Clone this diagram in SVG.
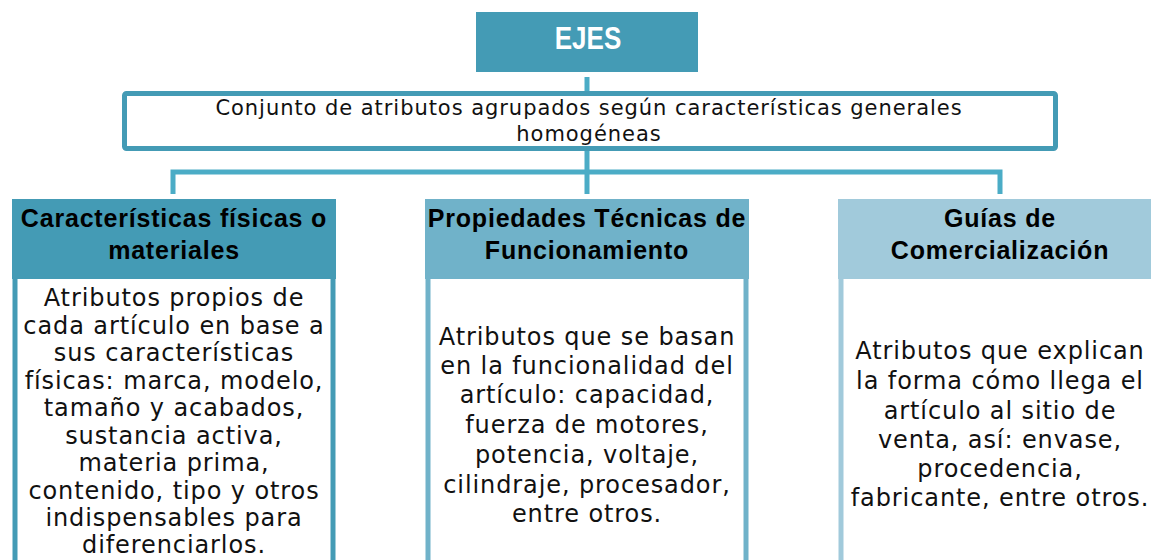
<svg xmlns="http://www.w3.org/2000/svg" width="1151" height="560" viewBox="0 0 1151 560">
<style>
.hdr{font-family:"Liberation Sans",Arial,sans-serif;font-weight:bold;font-size:25px;letter-spacing:0.8px;fill:#000;text-anchor:middle}
.body{font-family:"DejaVu Sans","Liberation Sans",sans-serif;font-size:24px;letter-spacing:0.9px;fill:#111;text-anchor:middle}
.desc{font-family:"DejaVu Sans","Liberation Sans",sans-serif;font-size:21px;letter-spacing:0.95px;fill:#111;text-anchor:middle}
.conn{fill:none;stroke:#4bacc6;stroke-width:5}
</style>
<rect width="1151" height="560" fill="#fff"/>
<g id="connectors">
<path class="conn" d="M587,77 V93"/>
<path class="conn" d="M587,148 V194 M173,194 V172 H1000 V194"/>
</g>
<g id="ejes">
<rect x="476" y="12" width="222" height="60" fill="#449bb5"/>
<text transform="translate(588,49) scale(0.84,1)" x="0" y="0" font-family="Liberation Sans,Arial,sans-serif" font-weight="bold" font-size="31" fill="#fff" text-anchor="middle">EJES</text>
</g>
<g id="definicion">
<rect x="124.5" y="93.5" width="931" height="55" rx="2" fill="#fff" stroke="#449bb5" stroke-width="5"/>
<text class="desc" x="589" y="115">Conjunto de atributos agrupados según características generales</text>
<text class="desc" x="589" y="141">homogéneas</text>
</g>
<g id="fisicas">
<rect x="15" y="270" width="318" height="310" fill="#fff" stroke="#449bb5" stroke-width="5"/>
<rect x="12" y="199" width="324" height="80" fill="#449bb5"/>
<text class="hdr" x="174" y="227">Características físicas o</text>
<text class="hdr" x="174" y="259">materiales</text>
<text class="body" x="174" y="306">Atributos propios de</text>
<text class="body" x="174" y="333.5">cada artículo en base a</text>
<text class="body" x="174" y="361">sus características</text>
<text class="body" x="174" y="388.5">físicas: marca, modelo,</text>
<text class="body" x="174" y="416">tamaño y acabados,</text>
<text class="body" x="174" y="443.5">sustancia activa,</text>
<text class="body" x="174" y="471">materia prima,</text>
<text class="body" x="174" y="498.5">contenido, tipo y otros</text>
<text class="body" x="174" y="526">indispensables para</text>
<text class="body" x="174" y="553">diferenciarlos.</text>
</g>
<g id="tecnicas">
<rect x="428" y="270" width="318" height="310" fill="#fff" stroke="#70b2c9" stroke-width="5"/>
<rect x="425" y="199" width="324" height="80" fill="#70b2c9"/>
<text class="hdr" x="587" y="227">Propiedades Técnicas de</text>
<text class="hdr" x="587" y="259">Funcionamiento</text>
<text class="body" x="587" y="345">Atributos que se basan</text>
<text class="body" x="587" y="374">en la funcionalidad del</text>
<text class="body" x="587" y="403">artículo:  capacidad,</text>
<text class="body" x="587" y="433">fuerza de motores,</text>
<text class="body" x="587" y="463">potencia, voltaje,</text>
<text class="body" x="587" y="493">cilindraje, procesador,</text>
<text class="body" x="587" y="522">entre otros.</text>
</g>
<g id="comercializacion">
<rect x="841" y="270" width="318" height="310" fill="#fff" stroke="#a1cadb" stroke-width="5"/>
<rect x="838" y="199" width="324" height="80" fill="#a1cadb"/>
<text class="hdr" x="1000" y="227">Guías de</text>
<text class="hdr" x="1000" y="259">Comercialización</text>
<text class="body" x="1000" y="359">Atributos que explican</text>
<text class="body" x="1000" y="389">la forma cómo llega el</text>
<text class="body" x="1000" y="419">artículo al sitio de</text>
<text class="body" x="1000" y="448">venta, así: envase,</text>
<text class="body" x="1000" y="477">procedencia,</text>
<text class="body" x="1000" y="506">fabricante, entre otros.</text>
</g>
</svg>
